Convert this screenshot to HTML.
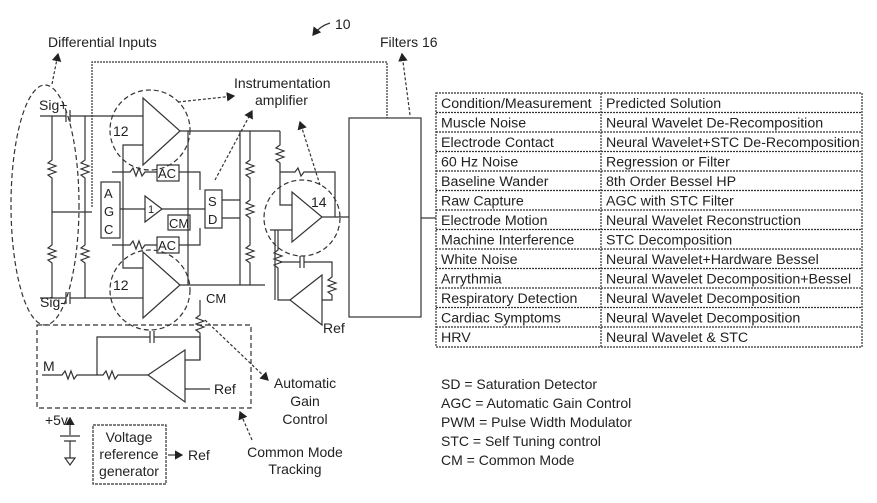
<!DOCTYPE html>
<html><head><style>
html,body{margin:0;padding:0;background:#fff;}
svg{display:block;font-family:"Liberation Sans",sans-serif;}
text{fill:#222;}
</style></head><body>
<svg width="877" height="503" viewBox="0 0 877 503" xmlns="http://www.w3.org/2000/svg">
<defs><marker id="ah" markerWidth="8" markerHeight="8" refX="6" refY="4" orient="auto"><path d="M0,0 L7,4 L0,8 z" fill="#222"/></marker></defs>
<g stroke="#333" stroke-width="1.2" fill="none">
<path d="M330,23 Q320,26 313,35" marker-end="url(#ah)"/>
<path d="M52,84 L58,54" stroke-dasharray="3,2" marker-end="url(#ah)"/>
<ellipse cx="45" cy="205" rx="34" ry="120" stroke-dasharray="5,3"/>
<path d="M92,207 L92,62 L387,62 L387,118" stroke-dasharray="2,1"/>
<path d="M40,116 L66,116 M70,116 L143,116"/>
<path d="M66,110 L66,122 M70,110 L70,122"/>
<path d="M40,298 L66,298 M70,298 L143,298"/>
<path d="M66,292 L66,304 M70,292 L70,304"/>
<path d="M52,116 L52,160 l-4,3 8,3 -8,3 8,3 -8,3 4,3 L52,245 l-4,3 8,3 -8,3 8,3 -8,3 4,3 L52,298"/>
<path d="M52,212 L92,212"/>
<path d="M85,116 L85,160 l-4,3 8,3 -8,3 8,3 -8,3 4,3 L85,245 l-4,3 8,3 -8,3 8,3 -8,3 4,3 L85,298"/>
<path d="M143,98 L143,165 L180,131 Z"/>
<path d="M143,252 L143,318 L180,285 Z"/>
<circle cx="150" cy="130" r="40" stroke-dasharray="5,3"/>
<circle cx="150" cy="290" r="40" stroke-dasharray="5,3"/>
<path d="M180,131 L280,131 M180,285 L265,285"/>
<path d="M143,145 L123,145 L123,268 L143,268"/>
<path d="M188,131 L188,285"/>
<rect x="101" y="182" width="19" height="56"/>
<rect x="157" y="165" width="22" height="16"/>
<rect x="157" y="237" width="22" height="16"/>
<rect x="168" y="215" width="22" height="15"/>
<rect x="205" y="190" width="17" height="38"/>
<path d="M145,196 L145,222 L162,209 Z"/>
<path d="M120,209 L145,209 M162,209 L205,209"/>
<path d="M112,172 L130,172 l3,-4 3,8 3,-8 3,8 3,-4 L157,172 M179,172 L200,172 L200,190"/>
<path d="M112,245 L130,245 l3,-4 3,8 3,-8 3,8 3,-4 L157,245 M179,245 L200,245 L200,228"/>
<path d="M222,200 L240,200 M222,218 L240,218 M240,131 L240,285"/>
<path d="M250,131 L250,160 l-4,3 8,3 -8,3 8,3 -8,3 4,3 L250,200 l-4,3 8,3 -8,3 8,3 -8,3 4,3 L250,245 l-4,3 8,3 -8,3 8,3 -8,3 4,3 L250,285"/>
<path d="M280,131 L280,145 l-4,3 8,3 -8,3 8,3 -8,3 4,3 L280,205 L292,205"/>
<path d="M280,172 L295,172 l3,-4 3,8 3,-4 L335,172 L335,217"/>
<path d="M292,192 L292,242 L322,217 Z"/>
<circle cx="302" cy="218" r="38" stroke-dasharray="5,3"/>
<path d="M322,217 L349,217 M270,230 L292,230 L275,230 L275,300 M278,230 L278,250 l-4,3 8,3 -8,3 8,3 -8,3 4,3 L278,300 L290,300"/>
<path d="M290,300 L322,275 L322,325 Z"/>
<path d="M280,262 L300,262 M304,262 L332,262 L332,277 l-4,3 8,3 -8,3 8,3 -8,3 4,3 L332,300 L322,300"/>
<path d="M300,256 L300,268 M304,256 L304,268"/>
<rect x="349" y="118" width="72" height="199"/>
<path d="M421,218 L436,218"/>
<path d="M410,115 L402,54" stroke-dasharray="3,2" marker-end="url(#ah)"/>
<path d="M178,102 L234,96" stroke-dasharray="3,2" marker-end="url(#ah)"/>
<path d="M215,180 L252,111" stroke-dasharray="3,2" marker-end="url(#ah)"/>
<path d="M320,185 L300,122" stroke-dasharray="3,2" marker-end="url(#ah)"/>
<path d="M200,300 L200,315 l-4,3 8,3 -8,3 8,3 -8,3 4,3 L200,360 L185,360"/>
<rect x="37" y="325" width="214" height="83" stroke-dasharray="5,3"/>
<path d="M42,375 L62,375 l3,-4 3,8 3,-8 3,8 3,-4 L96,375 L103,375 l3,-4 3,8 3,-8 3,8 3,-4 L148,375 M97,375 L97,337 L150,337 M154,337 L200,337 L200,360"/>
<path d="M150,331 L150,343 M154,331 L154,343"/>
<path d="M148,375 L185,350 L185,402 Z"/>
<path d="M185,389 L210,389"/>
<path d="M205,320 L268,380" stroke-dasharray="3,2" marker-end="url(#ah)"/>
<path d="M252,440 L240,412" stroke-dasharray="3,2" marker-end="url(#ah)"/>
<path d="M70,435 L70,418" marker-end="url(#ah)"/>
<path d="M60,436 L80,436 M64,441 L76,441 M70,441 L70,458"/>
<path d="M65,458 L75,458 L70,465 Z"/>
<rect x="93" y="425" width="73" height="59" stroke-dasharray="3,1"/>
<path d="M168,455 L182,455" marker-end="url(#ah)"/>
<rect x="436" y="93" width="426" height="254" stroke-dasharray="2,1"/>
<path d="M601,93 L601,347" stroke-dasharray="2,1"/>
<path stroke-dasharray="2,1" d="M436,112.5H862M436,132H862M436,151.5H862M436,171H862M436,190.5H862M436,210H862M436,229.5H862M436,249H862M436,268.5H862M436,288H862M436,307.5H862M436,327H862"/>
</g>
<g font-size="14">
<text x="335" y="29">10</text>
<text x="48" y="47">Differential Inputs</text>
<text x="380" y="47">Filters 16</text>
<text x="234" y="88">Instrumentation</text>
<text x="255" y="105">amplifier</text>
<text x="39" y="110">Sig+</text>
<text x="40" y="307">Sig-</text>
<text x="113" y="136">12</text>
<text x="113" y="290">12</text>
<text x="311" y="207">14</text>
<text x="104" y="198" font-size="13">A</text>
<text x="104" y="216" font-size="13">G</text>
<text x="104" y="234" font-size="13">C</text>
<text x="158" y="178" font-size="13">AC</text>
<text x="158" y="250" font-size="13">AC</text>
<text x="169" y="228" font-size="13">CM</text>
<text x="208" y="206" font-size="13">S</text>
<text x="208" y="224" font-size="13">D</text>
<text x="206" y="303" font-size="13">CM</text>
<text x="148" y="213" font-size="11">1</text>
<text x="323" y="333">Ref</text>
<text x="43" y="371">M</text>
<text x="214" y="394">Ref</text>
<text x="188" y="460">Ref</text>
<text x="45" y="425">+5v</text>
<text x="129" y="442" text-anchor="middle">Voltage</text>
<text x="129" y="459" text-anchor="middle">reference</text>
<text x="129" y="476" text-anchor="middle">generator</text>
<text x="305" y="388" text-anchor="middle">Automatic</text>
<text x="305" y="406" text-anchor="middle">Gain</text>
<text x="305" y="424" text-anchor="middle">Control</text>
<text x="295" y="457" text-anchor="middle">Common Mode</text>
<text x="295" y="474" text-anchor="middle">Tracking</text>
<text x="441" y="389">SD = Saturation Detector</text>
<text x="441" y="408">AGC = Automatic Gain Control</text>
<text x="441" y="427">PWM = Pulse Width Modulator</text>
<text x="441" y="446">STC = Self Tuning control</text>
<text x="441" y="465">CM = Common Mode</text>
</g>
<g font-size="14.2">
<text x="441" y="108">Condition/Measurement</text><text x="606" y="108">Predicted Solution</text>
<text x="441" y="127.5">Muscle Noise</text><text x="606" y="127.5">Neural Wavelet De-Recomposition</text>
<text x="441" y="147">Electrode Contact</text><text x="606" y="147">Neural Wavelet+STC De-Recomposition</text>
<text x="441" y="166.5">60 Hz Noise</text><text x="606" y="166.5">Regression or Filter</text>
<text x="441" y="186">Baseline Wander</text><text x="606" y="186">8th Order Bessel HP</text>
<text x="441" y="205.5">Raw Capture</text><text x="606" y="205.5">AGC with STC Filter</text>
<text x="441" y="225">Electrode Motion</text><text x="606" y="225">Neural Wavelet Reconstruction</text>
<text x="441" y="244.5">Machine Interference</text><text x="606" y="244.5">STC Decomposition</text>
<text x="441" y="264">White Noise</text><text x="606" y="264">Neural Wavelet+Hardware Bessel</text>
<text x="441" y="283.5">Arrythmia</text><text x="606" y="283.5">Neural Wavelet Decomposition+Bessel</text>
<text x="441" y="303">Respiratory Detection</text><text x="606" y="303">Neural Wavelet Decomposition</text>
<text x="441" y="322.5">Cardiac Symptoms</text><text x="606" y="322.5">Neural Wavelet Decomposition</text>
<text x="441" y="342">HRV</text><text x="606" y="342">Neural Wavelet &amp; STC</text>
</g>
</svg>
</body></html>
